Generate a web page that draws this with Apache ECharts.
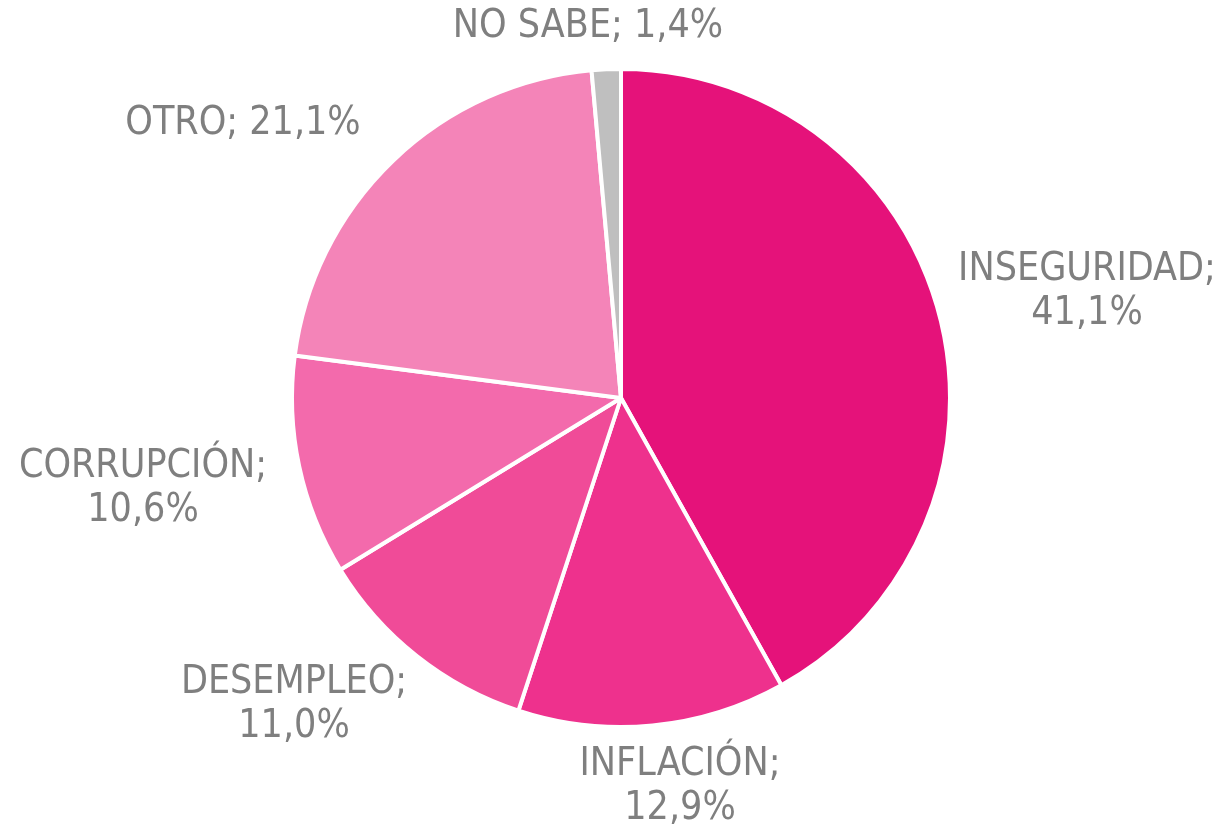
<!DOCTYPE html>
<html>
<head>
	<meta charset="UTF-8">
	<title>Problema principal</title>
	<style>
		html, body { margin: 0; padding: 0; background: #fff; }
		#chart { width: 1225px; height: 829px; }
	</style>
</head>
<body>
<div id="chart"></div>
<script type="text/javascript" src="https://cdn.jsdelivr.net/npm/echarts@6/dist/echarts.min.js"></script>
<script type="text/javascript">
var categories = ['INSEGURIDAD', 'INFLACIÓN', 'DESEMPLEO', 'CORRUPCIÓN', 'OTRO', 'NO SABE'];
var values = [41.1, 12.9, 11.0, 10.6, 21.1, 1.4];
var colors = ['#E5127A', '#EE318D', '#F04B98', '#F36AAC', '#F484B8', '#BFBFBF'];

// label placement (center of text block), and whether the label wraps
var labelPos = [
	{x: 1087, y: 292, wrap: true},
	{x: 680, y: 787, wrap: true},
	{x: 294, y: 705, wrap: true},
	{x: 143, y: 489, wrap: true},
	{x: 243, y: 124, wrap: false},
	{x: 588, y: 27, wrap: false}
];

var data = [];
for (var i = 0; i < categories.length; i++) {
	data.push({name: categories[i], value: values[i], itemStyle: {color: colors[i]}});
}

var chart = echarts.init(document.getElementById('chart'));
var option = {
	animation: false,
	series: [{
		type: 'pie',
		center: [621, 398],
		radius: 329,
		startAngle: 90,
		clockwise: true,
		data: data,
		itemStyle: {
			borderColor: '#ffffff',
			borderWidth: 4
		},
		label: {
			show: true,
			position: 'outside',
			color: '#7F7F7F',
			fontFamily: 'DejaVu Sans Condensed',
			fontSize: 39,
			lineHeight: 44,
			align: 'center',
			overflow: 'none',
			formatter: function (p) {
				var v = p.value.toFixed(1).replace('.', ',') + '%';
				return labelPos[p.dataIndex].wrap ? p.name + ';\n' + v : p.name + '; ' + v;
			}
		},
		labelLine: { show: false },
		labelLayout: function (params) {
			var pos = labelPos[params.dataIndex];
			return {
				x: pos.x,
				y: pos.y,
				align: 'center',
				verticalAlign: 'middle',
				width: 400
			};
		}
	}]
};
chart.setOption(option);
</script>
</body>
</html>
